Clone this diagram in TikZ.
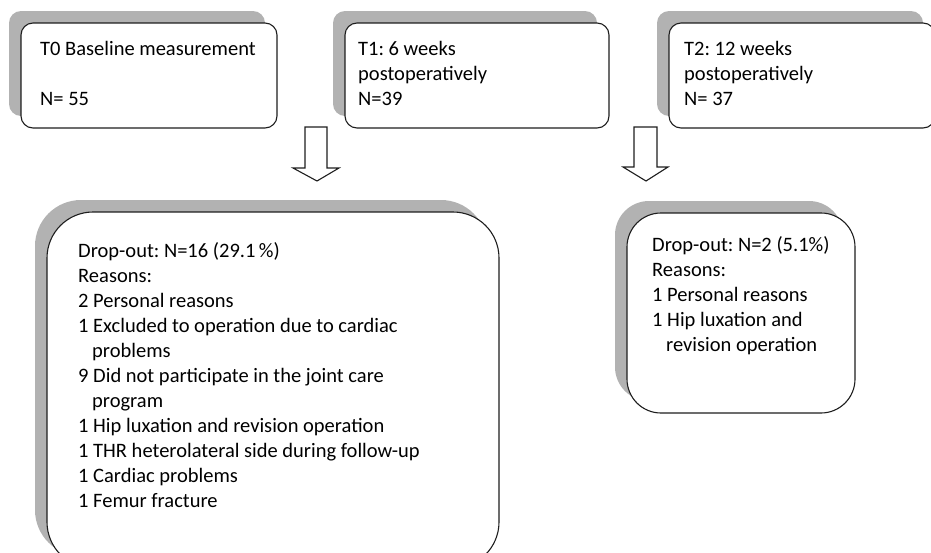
\documentclass[tikz,border=0pt]{standalone}
\usepackage{fontspec}
\setmainfont{Carlito}
\usetikzlibrary{shadows}
\definecolor{shd}{RGB}{178,178,178}
\definecolor{edge}{RGB}{30,30,30}
\begin{document}
\frenchspacing
\begin{tikzpicture}[x=1pt,y=-1pt,
  box/.style={draw=edge, line width=1.1pt, fill=white, rounded corners=#1,
    drop shadow={shadow xshift=-12pt, shadow yshift=12pt, fill=shd, opacity=1},
    inner sep=0pt},
  box/.default=12pt,
  txt/.style={font=\fontsize{20.5}{25}\selectfont\frenchspacing, align=left, inner sep=0pt,
    anchor=base west, text=black},
  blockarrow/.style={draw=edge, line width=1.1pt, fill=white, line join=miter}]
\useasboundingbox (0,0) rectangle (931,552);
\clip (0,0) rectangle (931,552);
% top boxes
\node[box, minimum width=256pt, minimum height=105pt] (t0) at (149,75.5) {};
\node[box, minimum width=264pt, minimum height=105pt] (t1) at (477,75.5) {};
\node[box, minimum width=266pt, minimum height=105pt] (t2) at (802,75.5) {};
% text nodes: base anchor = baseline of the last line
\node[txt] (t0txt) at (40,105) {T0 Baseline measurement\\[25pt]N= 55};
\node[txt] (t1txt) at (358,105) {T1: 6 weeks\\postoperatively\\N=39};
\node[txt] (t2txt) at (684,105) {T2: 12 weeks\\postoperatively\\N= 37};
% block arrows
\draw[blockarrow] (305,127) -- (305,168) -- (293,168) -- (317,181) -- (339,168) -- (327,168) -- (327,127) -- cycle;
\draw[blockarrow] (634,127) -- (634,167) -- (623,167) -- (646,181) -- (668,167) -- (657,167) -- (657,127) -- cycle;
% drop-out boxes
\node[box=46pt, minimum width=452pt, minimum height=356pt] (d1) at (273,390) {};
\node[box=34pt, minimum width=228pt, minimum height=200pt] (d2) at (741,313) {};
\node[txt] (d1txt) at (78,507) {Drop-out: N=16 (29.1\,\%)\\Reasons:\\2 Personal reasons\\
1 Excluded to operation due to cardiac\\\hspace*{14pt}problems\\
9 Did not participate in the joint care\\\hspace*{14pt}program\\
1 Hip luxation and revision operation\\1 THR heterolateral side during follow-up\\
1 Cardiac problems\\1 Femur fracture};
\node[txt] (d2txt) at (652,351) {Drop-out: N=2 (5.1\%)\\Reasons:\\1 Personal reasons\\1 Hip luxation and\\\hspace*{14pt}revision operation};
\end{tikzpicture}
\end{document}
